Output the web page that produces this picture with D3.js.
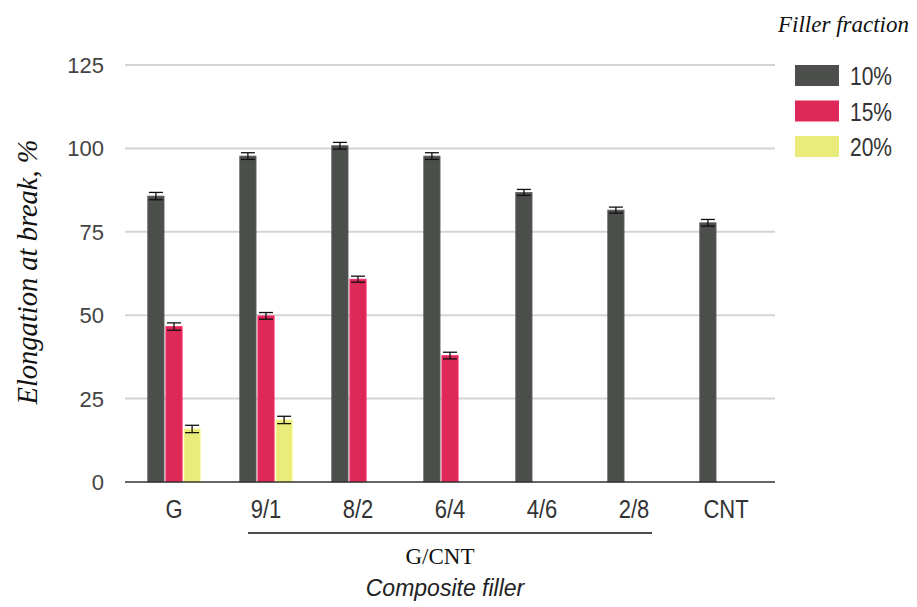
<!DOCTYPE html>
<html>
<head>
<meta charset="utf-8">
<script src="https://cdn.jsdelivr.net/npm/d3@7"></script>
<style>
  html, body { margin: 0; padding: 0; background: #fff; }
  svg { display: block; }
</style>
</head>
<body>
<svg id="chart" width="917" height="607"></svg>
<script>
// Composite filler categories and elongation at break (%) per filler fraction
const categories = ["G", "9/1", "8/2", "6/4", "4/6", "2/8", "CNT"];
const seriesNames = ["10%", "15%", "20%"];
const values10 = [85.7, 97.7, 100.8, 97.7, 86.8, 81.5, 77.7];
const values15 = [46.6, 49.8, 60.8, 37.9, null, null, null];
const values20 = [15.9, 18.6, null, null, null, null, null];
const errors10 = [1.1, 1.0, 1.0, 1.0, 0.9, 0.9, 1.0];
const errors15 = [1.1, 1.0, 0.9, 1.0, null, null, null];
const errors20 = [1.1, 1.1, null, null, null, null, null];
const yTicks = [0, 25, 50, 75, 100, 125];
const colors = ["#4b4e4b", "#dd2858", "#e9ec7a"];

const sans = "Liberation Sans, Arial, sans-serif";
const serif = "Liberation Serif, Times New Roman, serif";

const svg = d3.select("#chart");

const x = d3.scaleBand().domain(categories).range([128, 772])
  .paddingInner(0.39).paddingOuter(0.195);
const xs = d3.scaleBand().domain(seriesNames).range([0, x.bandwidth()]).padding(0.1);
const y = d3.scaleLinear().domain([0, 125]).range([482, 65]);

// gridlines
svg.append("g").selectAll("line").data(yTicks.filter(d => d > 0)).join("line")
  .attr("x1", 125).attr("x2", 775)
  .attr("y1", d => y(d)).attr("y2", d => y(d))
  .attr("stroke", "#d4d4d4").attr("stroke-width", 2);

// y tick labels
svg.append("g").selectAll("text").data(yTicks).join("text")
  .attr("x", 104).attr("y", d => y(d)).attr("dy", "0.36em")
  .attr("text-anchor", "end")
  .attr("font-family", sans)
  .attr("font-size", 22).attr("fill", "#444")
  .text(d => d);

// bars
const series = [
  { name: "10%", vals: values10, errs: errors10 },
  { name: "15%", vals: values15, errs: errors15 },
  { name: "20%", vals: values20, errs: errors20 }
];
series.forEach((s, si) => {
  const pts = categories.map((c, i) => ({ c, v: s.vals[i], e: s.errs[i] })).filter(d => d.v != null);
  const g = svg.append("g");
  const cx = d => x(d.c) + xs(s.name) + xs.bandwidth() / 2;
  g.selectAll("rect").data(pts).join("rect")
    .attr("x", d => x(d.c) + xs(s.name))
    .attr("width", xs.bandwidth())
    .attr("y", d => y(d.v))
    .attr("height", d => y(0) - y(d.v))
    .attr("fill", colors[si])
    .attr("stroke", d3.color(colors[si]).brighter(0.6))
    .attr("stroke-width", 0.8);
  // error bars
  const eg = g.selectAll("g.err").data(pts).join("g").attr("class", "err")
    .attr("stroke", "#111").attr("stroke-width", 1.3);
  eg.append("line")
    .attr("x1", cx).attr("x2", cx)
    .attr("y1", d => y(d.v + d.e)).attr("y2", d => y(d.v - d.e));
  [1, -1].forEach(sign => {
    eg.append("line")
      .attr("x1", d => cx(d) - 7).attr("x2", d => cx(d) + 7)
      .attr("y1", d => y(d.v + sign * d.e)).attr("y2", d => y(d.v + sign * d.e));
  });
});

// baseline
svg.append("line").attr("x1", 125).attr("x2", 775)
  .attr("y1", y(0)).attr("y2", y(0))
  .attr("stroke", "#333").attr("stroke-width", 1.6);

// x tick labels (slightly tall lettering)
svg.append("g").selectAll("text").data(categories).join("text")
  .attr("transform", d => `translate(${x(d) + x.bandwidth() / 2},517.5) scale(1,1.2)`)
  .attr("text-anchor", "middle")
  .attr("font-family", sans)
  .attr("font-size", 22).attr("fill", "#333")
  .text(d => d);

// G/CNT group bracket
const gx1 = x("9/1") + x.bandwidth() / 2 - 18;
const gx2 = x("2/8") + x.bandwidth() / 2 + 18;
svg.append("line").attr("x1", gx1).attr("x2", gx2)
  .attr("y1", 533).attr("y2", 533)
  .attr("stroke", "#111").attr("stroke-width", 1.3);
svg.append("text").attr("x", 440).attr("y", 564)
  .attr("text-anchor", "middle")
  .attr("font-family", serif)
  .attr("font-size", 23).attr("fill", "#111")
  .text("G/CNT");

// x axis title
svg.append("text").attr("x", 445).attr("y", 596)
  .attr("text-anchor", "middle")
  .attr("font-family", sans)
  .attr("font-style", "italic")
  .attr("font-size", 23).attr("fill", "#222")
  .text("Composite filler");

// y axis title
svg.append("text")
  .attr("transform", "translate(37,272) rotate(-90)")
  .attr("text-anchor", "middle")
  .attr("font-family", serif)
  .attr("font-style", "italic")
  .attr("font-size", 28.5).attr("fill", "#111")
  .text("Elongation at break, %");

// legend
svg.append("text").attr("x", 778).attr("y", 32)
  .attr("font-family", serif)
  .attr("font-style", "italic")
  .attr("font-size", 23).attr("fill", "#111")
  .text("Filler fraction");
const leg = svg.append("g").selectAll("g").data(seriesNames).join("g")
  .attr("transform", (d, i) => `translate(795,${65 + i * 35.5})`);
leg.append("rect").attr("width", 44).attr("height", 21)
  .attr("fill", (d, i) => colors[i]);
leg.append("text").attr("transform", "translate(55,20) scale(1,1.2)")
  .attr("font-family", sans)
  .attr("font-size", 21).attr("fill", "#333")
  .text(d => d);
</script>
</body>
</html>
